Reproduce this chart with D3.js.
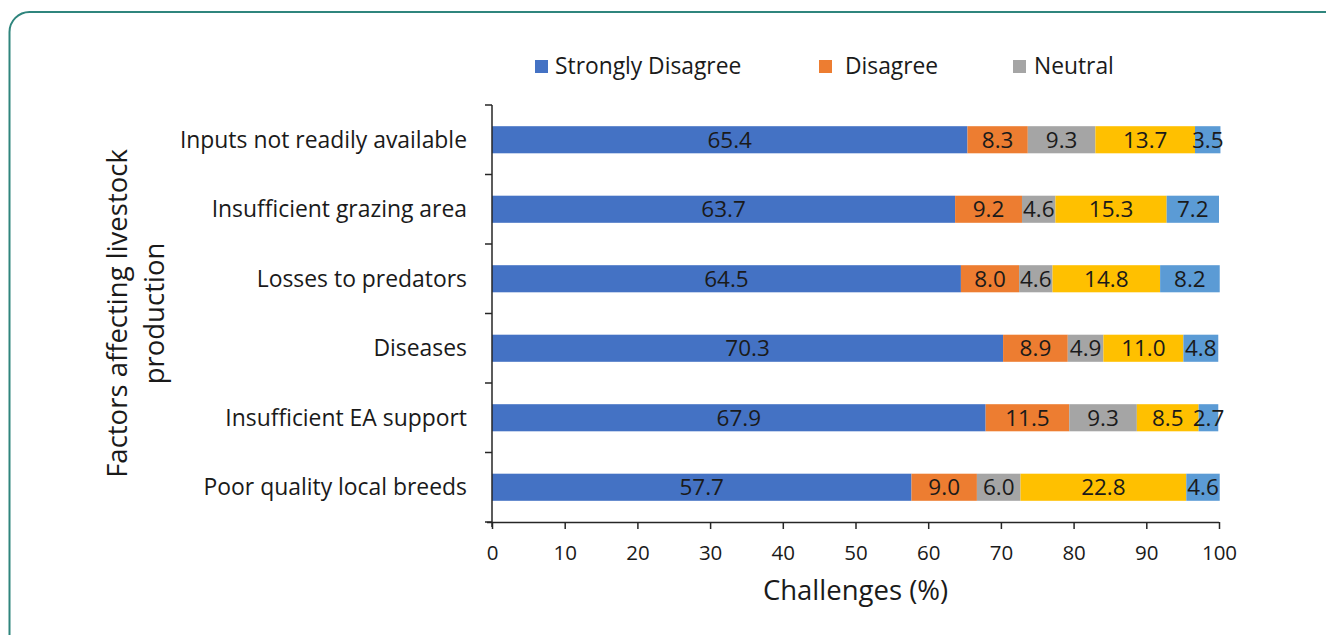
<!DOCTYPE html>
<html>
<head>
<meta charset="utf-8">
<script src="https://cdn.jsdelivr.net/npm/d3@7"></script>
<style>
  body { margin: 0; background: #fff; }
  svg { display: block; font-family: "Open Sans", sans-serif; }
</style>
</head>
<body>
<svg id="chart" width="1326" height="635"></svg>
<script>
// data
let categories = [
	'Inputs not readily available',
	'Insufficient grazing area',
	'Losses to predators',
	'Diseases',
	'Insufficient EA support',
	'Poor quality local breeds'
];
let seriesNames = ['Strongly Disagree', 'Disagree', 'Neutral', 'Agree', 'Strongly Agree'];
let stronglyDisagree = [65.4, 63.7, 64.5, 70.3, 67.9, 57.7];
let disagree = [8.3, 9.2, 8.0, 8.9, 11.5, 9.0];
let neutral = [9.3, 4.6, 4.6, 4.9, 9.3, 6.0];
let agree = [13.7, 15.3, 14.8, 11.0, 8.5, 22.8];
let stronglyAgree = [3.5, 7.2, 8.2, 4.8, 2.7, 4.6];
let xTicks = [0, 10, 20, 30, 40, 50, 60, 70, 80, 90, 100];
// legend in the source only shows the first three entries
let legendShown = ['Strongly Disagree', 'Disagree', 'Neutral'];

let colors = ['#4472C4', '#ED7D31', '#A5A5A5', '#FFC000', '#5B9BD5'];
let textCol = '#1a1a1a';

let svg = d3.select('#chart');

// rounded frame (runs off the right and bottom of the picture)
svg.append('rect')
	.attr('x', 9.5).attr('y', 12)
	.attr('width', 1360).attr('height', 660)
	.attr('rx', 20).attr('ry', 20)
	.attr('fill', 'none')
	.attr('stroke', '#2f857d')
	.attr('stroke-width', 2);

let plot = { left: 492, right: 1219, top: 105, bottom: 522 };

let x = d3.scaleLinear().domain([0, 100]).range([plot.left, plot.right]);
let y = d3.scaleBand().domain(categories).range([plot.top, plot.bottom]).paddingInner(0.61).paddingOuter(0.305);

// build stacked table
let table = categories.map((c, i) => ({
	cat: c,
	'Strongly Disagree': stronglyDisagree[i],
	'Disagree': disagree[i],
	'Neutral': neutral[i],
	'Agree': agree[i],
	'Strongly Agree': stronglyAgree[i]
}));
let stacked = d3.stack().keys(seriesNames)(table);

let layers = svg.append('g').selectAll('g')
	.data(stacked)
	.join('g')
	.attr('fill', (d, i) => colors[i]);

layers.selectAll('rect')
	.data(d => d)
	.join('rect')
	.attr('x', d => x(d[0]))
	.attr('y', d => y(d.data.cat))
	.attr('width', d => x(d[1]) - x(d[0]))
	.attr('height', y.bandwidth());

// data labels
layers.selectAll('text')
	.data(d => d.map(v => ({ v: v, key: d.key })))
	.join('text')
	.attr('x', d => (x(d.v[0]) + x(d.v[1])) / 2)
	.attr('y', d => y(d.v.data.cat) + y.bandwidth() / 2)
	.attr('dy', '0.36em')
	.attr('text-anchor', 'middle')
	.attr('fill', textCol)
	.attr('font-size', 22.5)
	.text(d => d.v.data[d.key].toFixed(1));

// x axis
let xAxis = svg.append('g')
	.attr('transform', `translate(0,${plot.bottom})`)
	.call(d3.axisBottom(x).tickValues(xTicks).tickSize(7).tickSizeOuter(0).tickPadding(16));
xAxis.select('.domain').attr('d', `M${plot.left - 5},0.5H${plot.right}`);
xAxis.selectAll('line, path').attr('stroke', '#262626').attr('stroke-width', 1.5);
xAxis.selectAll('text').attr('font-size', 20.5).attr('fill', textCol).attr('font-family', '"Open Sans", sans-serif');

// y axis: ticks sit on the band edges, labels in the band centre
let yEdges = categories.map(c => y(c) - y.step() * y.paddingInner() / 2).concat([plot.bottom]);
let yAxisG = svg.append('g');
yAxisG.append('line')
	.attr('x1', plot.left).attr('x2', plot.left)
	.attr('y1', plot.top).attr('y2', plot.bottom + 5)
	.attr('stroke', '#262626').attr('stroke-width', 1.5);
yAxisG.selectAll('.ytick')
	.data(yEdges)
	.join('line')
	.attr('class', 'ytick')
	.attr('x1', plot.left - 7).attr('x2', plot.left)
	.attr('y1', d => d).attr('y2', d => d)
	.attr('stroke', '#262626').attr('stroke-width', 1.5);
yAxisG.selectAll('.ylab')
	.data(categories)
	.join('text')
	.attr('class', 'ylab')
	.attr('x', plot.left - 25)
	.attr('y', d => y(d) + y.bandwidth() / 2)
	.attr('dy', '0.36em')
	.attr('text-anchor', 'end')
	.attr('font-size', 22.9)
	.attr('fill', textCol)
	.text(d => d);

// axis titles
svg.append('text')
	.attr('x', (plot.left + plot.right) / 2)
	.attr('y', 600)
	.attr('text-anchor', 'middle')
	.attr('font-size', 27.5)
	.attr('fill', textCol)
	.text('Challenges (%)');

let yTitle = svg.append('text')
	.attr('transform', `translate(136,${(plot.top + plot.bottom) / 2}) rotate(-90)`)
	.attr('text-anchor', 'middle')
	.attr('font-size', 27.5)
	.attr('fill', textCol);
yTitle.append('tspan').attr('x', 0).attr('dy', '-0.33em').text('Factors affecting livestock');
yTitle.append('tspan').attr('x', 0).attr('dy', '1.35em').text('production');

// legend
let legendX = [535, 819, 1013];
let legendTextDx = [20, 26, 21];
let legend = svg.append('g').selectAll('g')
	.data(legendShown)
	.join('g')
	.attr('transform', (d, i) => `translate(${legendX[i]},66)`);
legend.append('rect')
	.attr('x', 0).attr('y', -6)
	.attr('width', 13).attr('height', 13)
	.attr('fill', d => colors[seriesNames.indexOf(d)]);
legend.append('text')
	.attr('x', (d, i) => legendTextDx[i])
	.attr('dy', '0.36em')
	.attr('font-size', 22.8)
	.attr('fill', textCol)
	.text(d => d);
</script>
</body>
</html>
